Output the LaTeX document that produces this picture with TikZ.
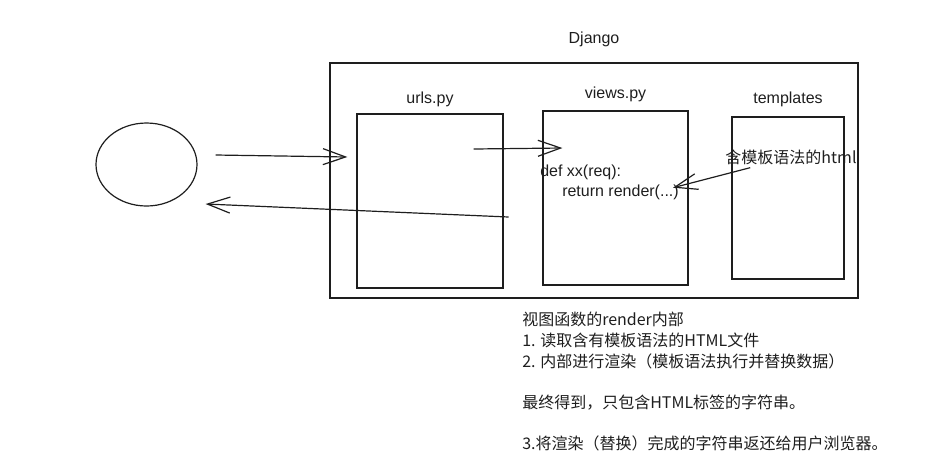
\documentclass[tikz,border=0pt]{standalone}
\usepackage{fontspec}
\setmainfont{Liberation Sans}
\newfontfamily\cjk{Noto Sans CJK SC}
\usepackage{tikz}
\usetikzlibrary{positioning}
\usetikzlibrary{shapes.geometric}
\usetikzlibrary{arrows.meta}
\usetikzlibrary{fit}
\definecolor{ink}{HTML}{1e1e1e}
\tikzset{
    box/.style={
        draw=ink,
        line width=0.9pt,
        inner sep=0pt
    },
    title/.style={
        inner sep=0pt,
        text=ink,
        font=\fontsize{12}{15}\selectfont
    },
    cjktitle/.style={
        title,
        font=\cjk\fontsize{12}{15}\selectfont
    },
    flow/.style={
        draw=ink,
        line width=0.9pt,
        -{Straight Barb[length=17pt,width=12pt,line width=0.9pt]}
    },
}

\begin{document}
\begin{tikzpicture}[x=0.75pt,y=-0.75pt]
        \useasboundingbox (0,0) rectangle (952,462);

        % browser and the Django project
        \node[box, ellipse, minimum width=75.75pt, minimum height=62.25pt] (user) at (146.5,164.5) {};
        \node[box, fit={(330,63) (858,298)}] (django) {};
        \node[box, fit={(357,114) (503,288)}] (urls) {};
        \node[box, fit={(543,111) (688,285)}] (views) {};
        \node[box, fit={(732,117) (844,279)}] (tpl) {};

        \node[title, above=11.5pt of django] (djangolbl) {Django};
        \node[title, above=5pt of urls] (urlslbl) {urls.py};
        \node[title, above=6.5pt of views] (viewslbl) {views.py};
        \node[title, above=7pt of tpl] (tpllbl) {templates};

        \node[cjktitle] (tplhtml) at (791,157) {含模板语法的html};
        \node[title, anchor=north west, align=left] (code) at (540,165) {def xx(req):\\\hspace{16.5pt}return render(...)};

        \draw[flow] ([shift={(18,-9.5)}]user.east) -- ([shift={(-9,-44)}]urls.west);
        \draw[flow] ([shift={(-30,-52)}]urls.east) -- ([shift={(20,-50)}]views.west);
        \draw[flow] ([shift={(25,3)}]tplhtml.south west) -- ([shift={(-6,5)}]code.east);
        \draw[flow] ([shift={(5,16)}]urls.east) -- ([shift={(8,39.5)}]user.east);

        \node[title, anchor=north west, align=left, font=\cjk\fontsize{12}{15.5}\selectfont] (steps) at (522,312) {视图函数的render内部\\
        1. 读取含有模板语法的HTML文件\\
        2. 内部进行渲染（模板语法执行并替换数据）\\[15.5pt]
        最终得到，只包含HTML标签的字符串。\\[15.5pt]
        3.将渲染（替换）完成的字符串返还给用户浏览器。};
        \end{tikzpicture}
\end{document}
